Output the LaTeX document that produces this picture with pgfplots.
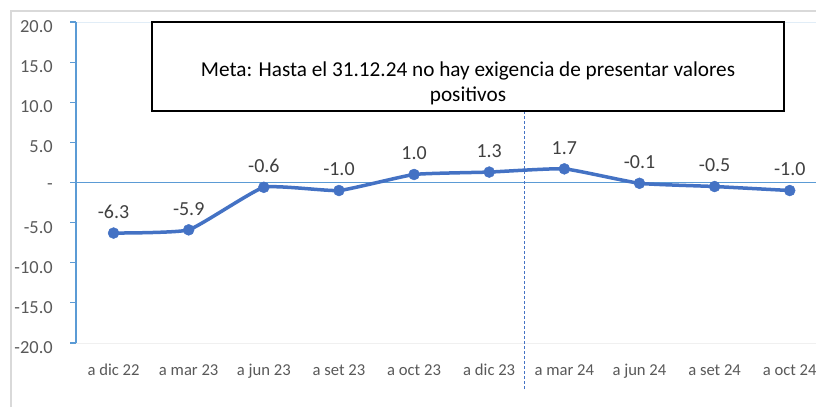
\documentclass[border=0pt]{standalone}
\usepackage{fontspec}
\setmainfont{Carlito}
\usepackage{pgfplots}
\pgfplotsset{compat=1.18}
\definecolor{linecol}{HTML}{4472C4}
\definecolor{axcol}{HTML}{5B9BD5}
\definecolor{tickcol}{HTML}{595959}
\definecolor{labcol}{HTML}{404040}
\begin{document}
\begin{tikzpicture}[x=1bp,y=1bp]
\useasboundingbox (0,0) rectangle (816,407);
\fill[white] (0,0) rectangle (816,407);
\draw[black!15, line width=1.2bp] (11,0) -- (11,396) -- (816,396);
\begin{axis}[
  at={(76bp,64bp)}, anchor=south west,
  width=740bp, height=321bp, scale only axis,
  xmin=-0.5, xmax=9.35, ymin=-20, ymax=20,
  clip=false,
  axis line style={draw=none},
  /pgf/number format/assume math mode=true,
  ytick={-20,-15,...,20},
  yticklabels={-20.0,-15.0,-10.0,-5.0,-,5.0,10.0,15.0,20.0},
  ytick pos=left, tick align=outside,
  major tick length=6bp,
  ytick style={axcol, line width=1.2bp},
  yticklabel style={font=\fontsize{18.5}{20}\selectfont, text=tickcol, anchor=east, inner sep=0pt, xshift=-17bp, yshift=-4.5bp},
  xtick={0,...,9},
  xticklabels={a dic 22,a mar 23,a jun 23,a set 23,a oct 23,a dic 23,a mar 24,a jun 24,a set 24,a oct 24},
  xtick pos=bottom,
  xtick style={draw=none},
  xticklabel style={font=\fontsize{16.7}{18}\selectfont, text=tickcol, anchor=base, inner sep=0pt, yshift=-26bp},
]
\draw[axcol!18, line width=1bp] (axis cs:-0.5,20) -- (axis cs:9.35,20);
\draw[black!6, line width=1bp] (axis cs:-0.5,-20) -- (axis cs:9.35,-20);
\draw[axcol, line width=1.3bp] (axis cs:-0.5,0) -- (axis cs:9.35,0);
\draw[axcol, line width=2bp] (axis cs:-0.5,-20) -- (axis cs:-0.5,20);
\draw[linecol, line width=0.9bp, dash pattern=on 3bp off 2bp] (axis cs:5.47,8.85) -- (axis cs:5.47,-25.9);
\addplot[linecol, line width=3.5bp, smooth, tension=0.25,
  mark=*, mark size=5.5bp, mark options={solid, fill=linecol, draw=linecol, line width=0.4bp},
  nodes near coords, point meta=explicit symbolic,
  every node near coord/.append style={anchor=center, yshift=21bp, font=\fontsize{20}{22}\selectfont, text=labcol}]
  table[meta=lab] {
x y lab
0 -6.3 -6.3
1 -5.9 -5.9
2 -0.6 -0.6
3 -1.0 -1.0
4 1.0 1.0
5 1.3 1.3
6 1.7 1.7
7 -0.1 -0.1
8 -0.5 -0.5
9 -1.0 -1.0
};
\end{axis}
\draw[black, line width=1.5bp, fill=white] (152,296) rectangle (784,385);
\node[anchor=base, inner sep=0pt, font=\fontsize{21.3}{23}\selectfont] at (468,331) {Meta: Hasta el 31.12.24 no hay exigencia de presentar valores};
\node[anchor=base, inner sep=0pt, font=\fontsize{21.3}{23}\selectfont] at (468,306) {positivos};
\end{tikzpicture}
\end{document}
